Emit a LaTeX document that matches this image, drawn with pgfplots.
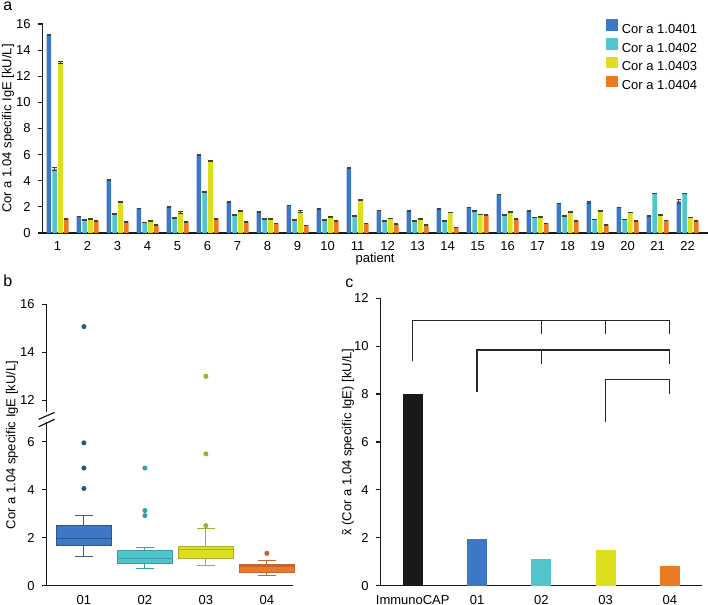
\documentclass[border=0pt]{standalone}
\usepackage{fontspec}
\setmainfont{Liberation Sans}
\usepackage{pgfplots}
\pgfplotsset{compat=1.18}
\usepgfplotslibrary{statistics}
\usepackage{pgfplotstable}

\definecolor{cA}{RGB}{61,120,198}
\definecolor{cB}{RGB}{82,196,204}
\definecolor{cC}{RGB}{221,222,30}
\definecolor{cD}{RGB}{236,122,36}
\definecolor{cAd}{RGB}{45,85,145}
\definecolor{cBd}{RGB}{55,160,166}
\definecolor{cCd}{RGB}{170,170,55}
\definecolor{cDd}{RGB}{195,100,50}
\definecolor{cAw}{RGB}{75,90,115}
\definecolor{axisgray}{RGB}{25,25,25}

\pgfplotstableread{
p a1 e1 a2 e2 a3 e3 a4 e4
1 15.16 0.05 4.90 0.10 13.04 0.08 1.10 0.03
2 1.27 0.03 1.02 0.04 1.10 0.03 0.90 0.03
3 4.08 0.04 1.48 0.04 2.42 0.04 0.87 0.03
4 1.89 0.03 0.82 0.03 0.92 0.03 0.61 0.03
5 1.99 0.03 1.17 0.03 1.58 0.04 0.87 0.03
6 5.96 0.04 3.18 0.04 5.55 0.04 1.10 0.03
7 2.39 0.04 1.40 0.04 1.71 0.04 0.87 0.03
8 1.63 0.03 1.10 0.03 1.10 0.03 0.74 0.03
9 2.11 0.03 0.99 0.03 1.63 0.08 0.59 0.03
10 1.83 0.03 1.02 0.04 1.27 0.04 0.92 0.03
11 4.97 0.04 1.32 0.03 2.55 0.04 0.74 0.03
12 1.73 0.03 0.94 0.03 1.12 0.03 0.69 0.03
13 1.68 0.03 0.94 0.03 1.10 0.03 0.64 0.03
14 1.86 0.03 0.94 0.03 1.58 0.03 0.43 0.03
15 1.96 0.03 1.68 0.03 1.43 0.03 1.38 0.03
16 2.96 0.03 1.38 0.03 1.63 0.03 1.10 0.03
17 1.68 0.03 1.20 0.03 1.25 0.03 0.74 0.03
18 2.27 0.03 1.32 0.03 1.63 0.03 0.92 0.03
19 2.37 0.08 1.04 0.03 1.68 0.03 0.64 0.03
20 1.96 0.03 1.04 0.03 1.58 0.03 0.92 0.03
21 1.32 0.03 3.03 0.03 1.38 0.03 0.97 0.03
22 2.42 0.18 3.03 0.03 1.20 0.03 0.92 0.03
}\patients

\pgfplotsset{
  base/.style={
    scale only axis, clip=false,
    axis x line=bottom, axis y line=left,
    axis line style={-, line width=0.6pt, axisgray},
    tick align=outside, major tick length=2.5pt,
    ytick style={line width=0.6pt, axisgray},
    xtick style={draw=none},
    font=\fontsize{6.5}{7.5}\selectfont,
    tick label style={font=\fontsize{6.5}{7.5}\selectfont},
    label style={font=\fontsize{6.5}{7.5}\selectfont},
    /pgf/number format/assume math mode=true,
  },
  ebar/.style={error bars/.cd, y dir=both, y explicit,
    error bar style={draw=black!75, line width=0.35pt},
    error mark options={rotate=90, mark size=1.1pt, draw=black!75, line width=0.35pt}},
}

\begin{document}
\begin{tikzpicture}
\useasboundingbox (0,0) rectangle (354pt,302.5pt);

% panel letters
\node[anchor=base west, inner sep=0pt, font=\fontsize{8}{9}\selectfont] at (1.5pt,297.3pt) {a};
\node[anchor=base west, inner sep=0pt, font=\fontsize{8}{9}\selectfont] at (1.5pt,159pt) {b};
\node[anchor=base west, inner sep=0pt, font=\fontsize{8}{9}\selectfont] at (172.5pt,158.5pt) {c};

% ---------- panel a ----------
\begin{axis}[base,
  at={(21.3pt,186pt)}, anchor=south west,
  width=332.5pt, height=104.5pt,
  xmin=0.5, xmax=22.67, ymin=0, ymax=16,
  ytick={0,2,...,16}, xtick={1,...,22},
  xticklabel style={yshift=2pt},
  ybar=0.6pt, bar width=2.3pt,
  ylabel={Cor a 1.04 specific IgE [kU/L]},
  ylabel style={at={([xshift=-17.3pt]axis description cs:0,0.5)}, anchor=center},
  xlabel={patient},
  xlabel style={at={([yshift=-13pt]axis description cs:0.5,0)}, anchor=center},
  legend style={at={(1,1)}, anchor=north east, xshift=-4.5pt, yshift=2.5pt,
    draw=none, fill=none, inner sep=0pt, row sep=0.4pt,
    nodes={inner sep=0.6pt},
    /tikz/every odd column/.append style={column sep=1.4pt},
    font=\fontsize{6.5}{7.5}\selectfont},
  legend cell align=left,
  legend image code/.code={\fill[#1] (0pt,-0.3pt) rectangle (5.7pt,5.4pt);},
]
\addplot[fill=cA, draw=none, ebar] table[x=p, y=a1, y error=e1]{\patients};
\addplot[fill=cB, draw=none, ebar] table[x=p, y=a2, y error=e2]{\patients};
\addplot[fill=cC, draw=none, ebar] table[x=p, y=a3, y error=e3]{\patients};
\addplot[fill=cD, draw=none, ebar] table[x=p, y=a4, y error=e4]{\patients};
\legend{Cor a 1.0401, Cor a 1.0402, Cor a 1.0403, Cor a 1.0404}
\end{axis}

% ---------- panel b ----------
% broken axis: values above the break are plotted as value - 4.28
\begin{axis}[base,
  at={(23.35pt,9.65pt)}, anchor=south west,
  width=123.2pt, height=140.7pt,
  xmin=0.39, xmax=4.43, ymin=0, ymax=11.72,
  ytick={0,2,4,6,7.72,9.72,11.72},
  yticklabels={0,2,4,6,12,14,16},
  xtick={1,2,3,4}, xticklabels={01,02,03,04},
  xticklabel style={yshift=1.2pt},
  ylabel={Cor a 1.04 specific IgE [kU/L]},
  ylabel style={at={([xshift=-17.3pt]axis description cs:0,0.5)}, anchor=center},
  y axis line style={draw=none},
  boxplot/draw direction=y,
  boxplot/box extend=0.9, boxplot/whisker extend=0.29,
]
\addplot[boxplot prepared={draw position=1, lower whisker=1.22, lower quartile=1.66,
    median=1.97, upper quartile=2.52, upper whisker=2.92},
  fill=cA, draw=cAd, line width=0.5pt, mark=*, mark size=1.0pt,
  mark options={draw=cAd, fill=cAd},
  boxplot/every whisker/.style={draw=cAw},
  boxplot/every median/.style={draw=cAd, line width=0.7pt}]
  table[row sep=\\, y index=0] {v\\ 4.05\\ 4.90\\ 5.95\\ 10.79\\};
\addplot[boxplot prepared={draw position=2, lower whisker=0.72, lower quartile=0.93,
    median=1.13, upper quartile=1.46, upper whisker=1.60},
  fill=cB, draw=cBd, line width=0.5pt, mark=*, mark size=1.0pt,
  mark options={draw=cBd, fill=cBd},
  boxplot/every whisker/.style={draw=cBd},
  boxplot/every median/.style={draw=cBd, line width=0.7pt}]
  table[row sep=\\, y index=0] {v\\ 2.92\\ 3.13\\ 4.90\\};
\addplot[boxplot prepared={draw position=3, lower whisker=0.86, lower quartile=1.14,
    median=1.52, upper quartile=1.64, upper whisker=2.39},
  fill=cC, draw=cCd, line width=0.5pt, mark=*, mark size=1.0pt,
  mark options={draw=cCd, fill=cCd},
  boxplot/every whisker/.style={draw=cCd},
  boxplot/every median/.style={draw=cCd, line width=0.7pt}]
  table[row sep=\\, y index=0] {v\\ 2.50\\ 5.49\\ 8.72\\};
\addplot[boxplot prepared={draw position=4, lower whisker=0.42, lower quartile=0.57,
    median=0.82, upper quartile=0.89, upper whisker=1.04},
  fill=cD, draw=cDd, line width=0.5pt, mark=*, mark size=1.0pt,
  mark options={draw=cDd, fill=cDd},
  boxplot/every whisker/.style={draw=cDd},
  boxplot/every median/.style={draw=cDd, line width=0.7pt}]
  table[row sep=\\, y index=0] {v\\ 1.35\\};
% broken y axis line
\draw[line width=0.6pt, axisgray] (axis cs:0.39,0) -- (axis cs:0.39,6.8);
\draw[line width=0.6pt, axisgray] (axis cs:0.39,7.25) -- (axis cs:0.39,11.72);
\draw[line width=0.6pt, axisgray] ([xshift=-4pt]axis cs:0.39,6.93) -- ([xshift=4pt]axis cs:0.39,7.22);
\draw[line width=0.6pt, axisgray] ([xshift=-4pt]axis cs:0.39,6.62) -- ([xshift=4pt]axis cs:0.39,6.93);
\end{axis}

% ---------- panel c ----------
\begin{axis}[base,
  at={(190.3pt,9.65pt)}, anchor=south west,
  width=160.7pt, height=143.7pt,
  xmin=-0.5, xmax=4.5, ymin=0, ymax=12,
  ytick={0,2,...,12},
  xtick={0,...,4}, xticklabels={ImmunoCAP,01,02,03,04},
  xticklabel style={yshift=1.2pt},
  ylabel={\makebox[0pt][l]{\hspace{0.08em}˜}x (Cor a 1.04 specific IgE) [kU/L]},
  ylabel style={at={([xshift=-16.3pt]axis description cs:0,0.5)}, anchor=center},
  bar width=10pt,
]
\addplot[ybar, fill=black!90, draw=none] coordinates {(0,8.02)};
\addplot[ybar, fill=cA, draw=none] coordinates {(1,1.95)};
\addplot[ybar, fill=cB, draw=none] coordinates {(2,1.11)};
\addplot[ybar, fill=cC, draw=none] coordinates {(3,1.50)};
\addplot[ybar, fill=cD, draw=none] coordinates {(4,0.82)};
% significance brackets
\draw[line width=0.55pt, black!85] (axis cs:0,9.38) -- (axis cs:0,11.07) -- (axis cs:4,11.07) -- (axis cs:4,10.51);
\draw[line width=0.55pt, black!85] (axis cs:2,11.07) -- (axis cs:2,10.51);
\draw[line width=0.55pt, black!85] (axis cs:3,11.07) -- (axis cs:3,10.51);
\draw[line width=0.55pt, black!85] (axis cs:1,8.10) -- (axis cs:1,9.84) -- (axis cs:4,9.84) -- (axis cs:4,9.26);
\draw[line width=0.55pt, black!85] (axis cs:2,9.84) -- (axis cs:2,9.26);
\draw[line width=0.55pt, black!85] (axis cs:3,6.85) -- (axis cs:3,8.62) -- (axis cs:4,8.62) -- (axis cs:4,8.02);
\end{axis}
\end{tikzpicture}
\end{document}
